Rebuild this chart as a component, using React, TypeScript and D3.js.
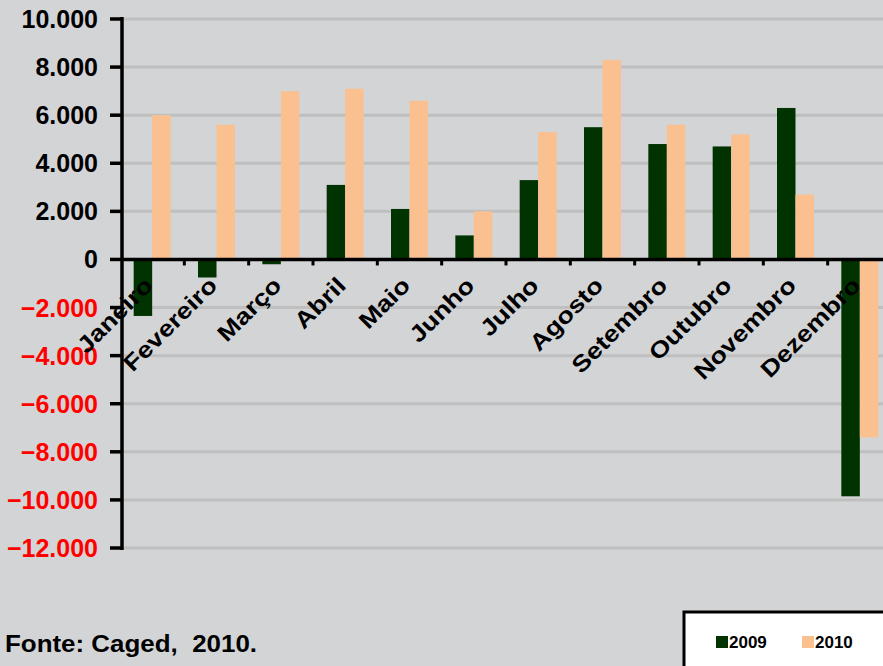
import React from "react";
import * as d3 from "d3";

// monthly balances
const months = [
  "Janeiro", "Fevereiro", "Março", "Abril", "Maio", "Junho",
  "Julho", "Agosto", "Setembro", "Outubro", "Novembro", "Dezembro",
];
const series2009 = [-2350, -750, -200, 3100, 2100, 1000, 3300, 5500, 4800, 4700, 6300, -9850];
const series2010 = [6000, 5600, 7000, 7100, 6600, 2000, 5300, 8300, 5600, 5200, 2700, -7400];
const yTicks = [10000, 8000, 6000, 4000, 2000, 0, -2000, -4000, -6000, -8000, -10000, -12000];
const seriesNames = ["2009", "2010"];
const colors = ["#003300", "#fac090"];

const W = 883;
const H = 666;
const font = "Arial, 'Liberation Sans', sans-serif";

export default function App() {
  const x = d3.scaleBand<string>().domain(months).range([120, 892]);
  const y = d3.scaleLinear().domain([-12000, 10000]).range([548, 19]);
  const barW = 18.5;
  const fmt = (v: number) => (v === 0 ? "0" : d3.format(",")(v).replace(/,/g, "."));
  const data = [series2009, series2010];

  return (
    <svg width={W} height={H} style={{ position: "absolute", left: 0, top: 0 }}>
      <rect x={0} y={0} width={W} height={H} fill="#d3d4d6" />

      {/* gridlines */}
      {yTicks.filter(t => t !== 0).map(t => (
        <line key={t} x1={121} x2={W} y1={y(t)} y2={y(t)} stroke="#bfbfbf" strokeWidth={3} />
      ))}

      {/* bars */}
      {data.map((s, si) =>
        s.map((v, i) => {
          const cx = x(months[i])! + x.bandwidth() / 2;
          const bx = cx - barW + si * barW;
          return (
            <rect
              key={`${si}-${i}`}
              x={bx}
              y={Math.min(y(v), y(0))}
              width={barW}
              height={Math.abs(y(v) - y(0))}
              fill={colors[si]}
            />
          );
        })
      )}

      {/* y axis */}
      <line x1={122} x2={122} y1={17} y2={550} stroke="#000" strokeWidth={3.5} />
      {yTicks.map(t => (
        <g key={t}>
          <line x1={110} x2={122} y1={y(t)} y2={y(t)} stroke="#000" strokeWidth={3.5} />
          <text
            x={98}
            y={y(t)}
            dy="0.36em"
            textAnchor="end"
            fontFamily={font}
            fontWeight="bold"
            fontSize={25}
            fill={t < 0 ? "#ff0000" : "#000"}
          >
            {fmt(t)}
          </text>
        </g>
      ))}

      {/* x axis at zero */}
      <line x1={121} x2={W} y1={y(0)} y2={y(0)} stroke="#000" strokeWidth={3.5} />
      {months.slice(1).map(m => (
        <line key={m} x1={x(m)!} x2={x(m)!} y1={y(0)} y2={y(0) + 6} stroke="#000" strokeWidth={3} />
      ))}
      {months.map(m => {
        const cx = x(m)! + x.bandwidth() / 2 + 2;
        const ty = 287;
        return (
          <g key={m} transform={`translate(${cx},${ty}) rotate(-45) scale(1.17,1)`}>
            <text
              x={0}
              y={0}
              textAnchor="end"
              fontFamily={font}
              fontWeight="bold"
              fontSize={23}
              fill="#000"
            >
              {m}
            </text>
          </g>
        );
      })}

      {/* source */}
      <text
        x={5}
        y={652}
        fontFamily={font}
        fontWeight="bold"
        fontSize={23}
        fill="#000"
        textLength={252}
        lengthAdjust="spacingAndGlyphs"
        style={{ whiteSpace: "pre" }}
      >
        {"Fonte: Caged,  2010."}
      </text>

      {/* legend */}
      <rect x={684} y={612} width={201} height={60} fill="#fff" stroke="#000" strokeWidth={3} />
      {seriesNames.map((n, i) => {
        const lx = 716 + i * 86;
        return (
          <g key={n}>
            <rect x={lx} y={636} width={12} height={12} fill={colors[i]} />
            <text x={lx + 13} y={648} fontFamily={font} fontWeight="bold" fontSize={17} fill="#000">
              {n}
            </text>
          </g>
        );
      })}
    </svg>
  );
}
